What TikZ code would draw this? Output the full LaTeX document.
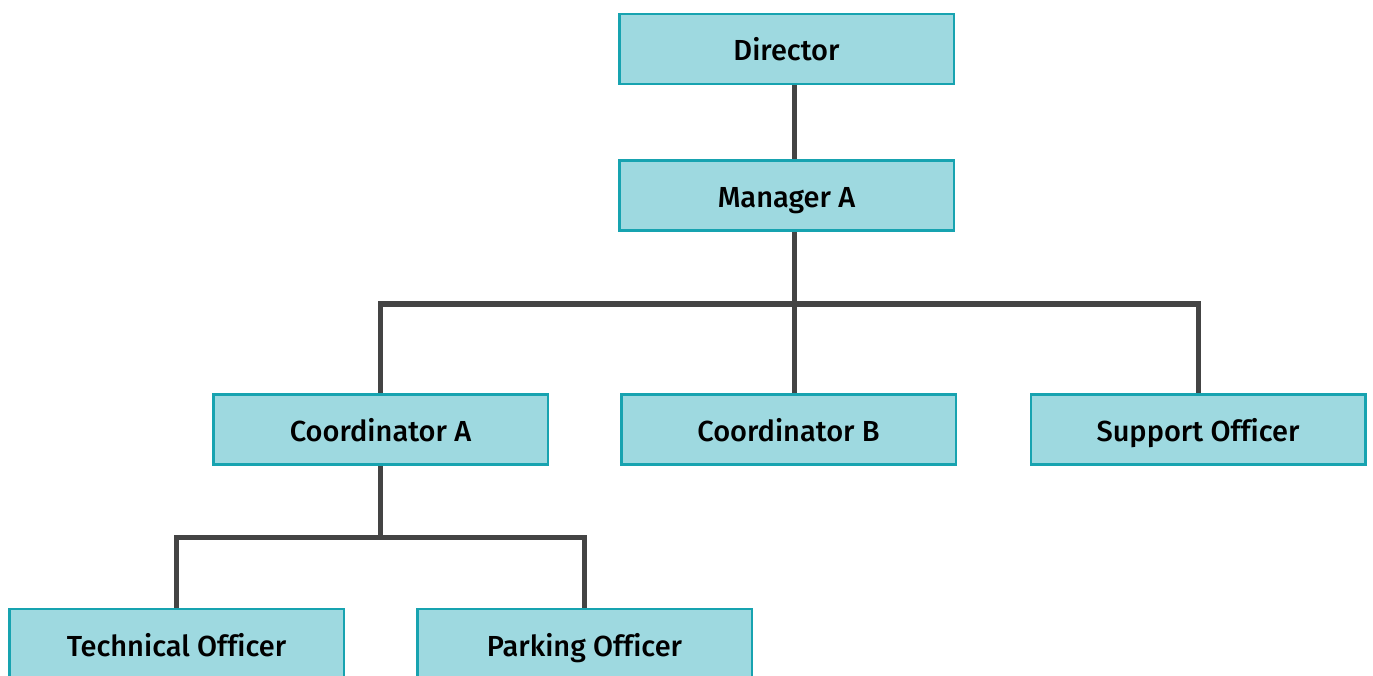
\documentclass[tikz,border=0pt]{standalone}
\usepackage{fontspec}
\setmainfont{Fira Sans Medium}[Ligatures={NoCommon}]
\usetikzlibrary{backgrounds}
\definecolor{boxfill}{HTML}{9ED9E0}
\definecolor{boxborder}{HTML}{17A3B0}
\definecolor{linkgray}{HTML}{444444}
\begin{document}
\begin{tikzpicture}[x=1pt,y=-1pt,
  box/.style={draw=boxborder, fill=boxfill, line width=2.5pt,
    minimum width=334.5pt, minimum height=70pt, inner sep=0pt,
    text height=24pt, text depth=0pt,
    font=\fontsize{29}{32}\selectfont, text=black},
  link/.style={draw=linkgray, line width=5pt, line join=miter}]
\useasboundingbox[clip] (0,0) rectangle (1373,676);
\node[box] (dir) at (786.5,49) {Director};
\node[box] (mgr) at (786.5,195.5) {Manager A};
\node[box] (ca) at (380.5,429.5) {Coordinator A};
\node[box] (cb) at (788.5,429.5) {Coordinator B};
\node[box] (so) at (1198,429.5) {Support Officer};
\node[box] (to) at (176.5,644) {Technical Officer};
\node[box] (po) at (584.5,644) {Parking Officer};
\coordinate (j1) at (794,304);
\coordinate (j2) at (380,537);
\begin{scope}[on background layer]
\draw[link] (dir.south -| j1) -- (mgr.north -| j1);
\draw[link] (mgr.south -| j1) -- (cb.north -| j1);
\draw[link] (ca.north -| j2) |- (j1) -| (so.north);
\draw[link] (ca.south -| j2) -- (j2);
\draw[link] (to.north) |- (j2) -| (po.north);
\end{scope}
\end{tikzpicture}
\end{document}
